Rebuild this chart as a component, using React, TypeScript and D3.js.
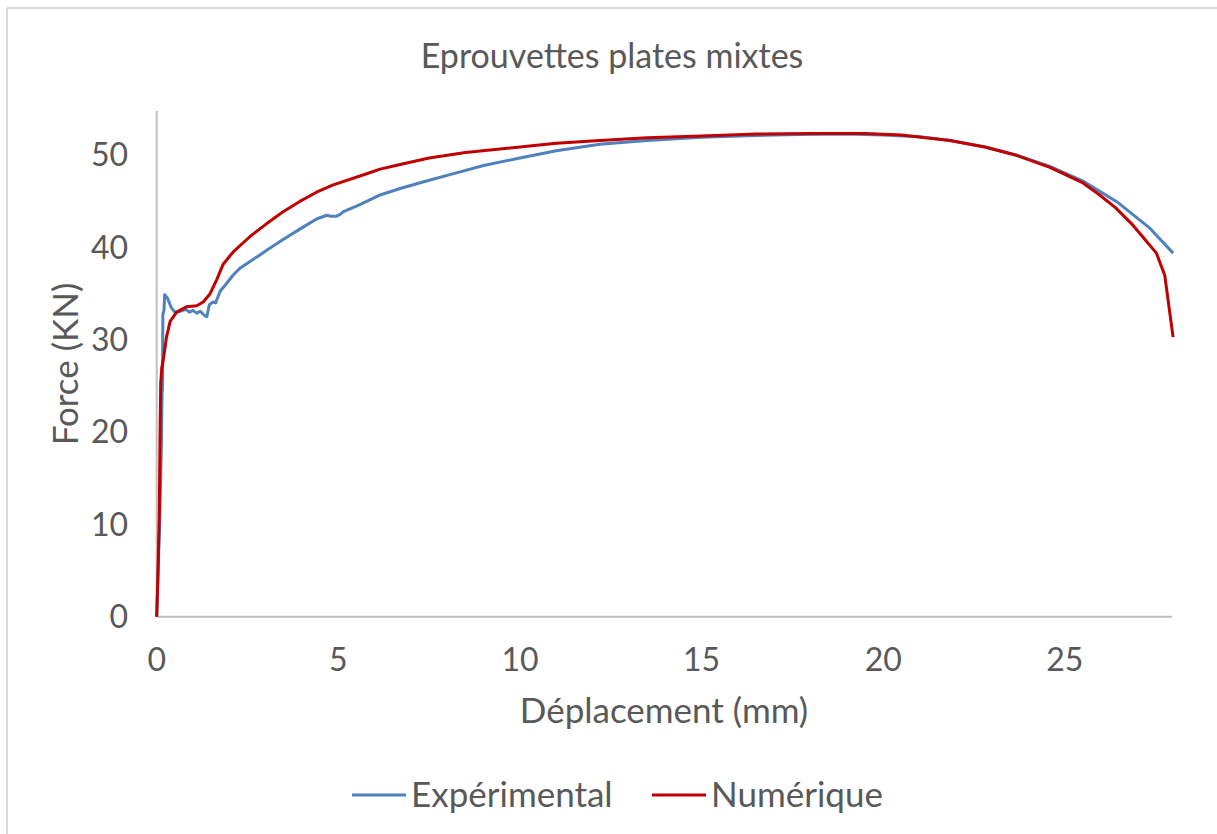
import React from 'react'
import * as d3 from 'd3'

// Expérimental
const expX = [0, 0.08, 0.13, 0.15, 0.16, 0.17, 0.2, 0.22, 0.3, 0.4, 0.5, 0.65, 0.8, 0.9, 1.0, 1.1, 1.2, 1.3, 1.38, 1.45, 1.55, 1.62, 1.75, 1.9, 2.1, 2.3, 2.57, 2.8, 3.03, 3.49, 3.94, 4.4, 4.68, 4.8, 4.95, 5.05, 5.14, 5.5, 5.78, 6.15, 6.7, 7.5, 8.07, 9, 10, 11, 12.2, 13.5, 15, 16.5, 17.7, 19, 20, 21, 21.84, 22.8, 23.67, 24.59, 25.5, 26.42, 27.34, 27.98]
const expF = [0, 10, 18.8, 25, 24.5, 32.8, 33.2, 34.9, 34.5, 33.5, 33.0, 33.1, 33.3, 33.0, 33.2, 32.9, 33.1, 32.7, 32.5, 33.8, 34.1, 34.0, 35.3, 36.0, 37.0, 37.8, 38.5, 39.1, 39.7, 40.9, 42.0, 43.1, 43.5, 43.4, 43.4, 43.6, 43.9, 44.5, 45.0, 45.7, 46.4, 47.3, 47.9, 48.9, 49.7, 50.5, 51.2, 51.6, 51.95, 52.15, 52.25, 52.3, 52.2, 52.0, 51.6, 50.9, 50.0, 48.8, 47.2, 45.0, 42.1, 39.4]

// Numérique
const numX = [0, 0.03, 0.07, 0.09, 0.11, 0.14, 0.18, 0.27, 0.37, 0.55, 0.83, 1.1, 1.28, 1.47, 1.65, 1.83, 2.1, 2.57, 3.03, 3.49, 3.94, 4.4, 4.86, 5.78, 6.15, 6.7, 7.5, 8.5, 10, 11, 12.2, 13.5, 15, 16.5, 18, 19.5, 20.5, 21.84, 22.8, 23.67, 24.59, 25.5, 25.96, 26.4, 26.88, 27.2, 27.52, 27.75, 27.98]
const numF = [0, 4, 10.8, 18.8, 25.3, 27, 27.8, 30.3, 32.0, 33.0, 33.6, 33.7, 34.1, 35.0, 36.5, 38.2, 39.5, 41.2, 42.6, 43.9, 45.0, 46.0, 46.8, 48.0, 48.5, 49.0, 49.7, 50.3, 50.9, 51.3, 51.6, 51.9, 52.1, 52.3, 52.35, 52.35, 52.2, 51.6, 50.9, 50.0, 48.7, 47.0, 45.7, 44.3, 42.4, 40.9, 39.4, 37.0, 30.3]

const xTicks = [0, 5, 10, 15, 20, 25]
const yTicks = [0, 10, 20, 30, 40, 50]

const series = [
  { name: 'Expérimental', xs: expX, ys: expF, color: '#4f81bd' },
  { name: 'Numérique', xs: numX, ys: numF, color: '#c00000' },
]

const W = 1217
const H = 834
const font = 'Lato, "Open Sans", sans-serif'
const txt = '#595959'

export default function App() {
  const x = d3.scaleLinear().domain([0, 27.95]).range([156.7, 1172])
  const y = d3.scaleLinear().domain([0, 54.8]).range([616.7, 111])

  const line = d3
    .line<[number, number]>()
    .x(d => x(d[0]))
    .y(d => y(d[1]))

  // legend: swatch start x for each entry
  const legendX = [352, 652]

  return (
    <svg
      width={W}
      height={H}
      style={{ position: 'absolute', left: 0, top: 0, background: '#fff' }}
      fontFamily={font}
    >
      {/* chart frame, only top and left edges visible */}
      <line x1={7} x2={W} y1={8} y2={8} stroke="#d9d9d9" strokeWidth={2} />
      <line x1={7} x2={7} y1={8} y2={H} stroke="#d9d9d9" strokeWidth={2} />

      <text x={612} y={56} dy="0.35em" textAnchor="middle" fontSize={34} fill={txt}>
        Eprouvettes plates mixtes
      </text>

      {/* axes */}
      <line x1={x(0)} x2={x(0)} y1={y(54.8)} y2={y(0)} stroke="#bfbfbf" strokeWidth={2} />
      <line x1={x(0)} x2={x(27.95)} y1={y(0)} y2={y(0)} stroke="#bfbfbf" strokeWidth={2} />

      {yTicks.map(t => (
        <text key={t} x={128} y={y(t)} dy="0.35em" textAnchor="end" fontSize={32} fill={txt}>
          {t}
        </text>
      ))}
      {xTicks.map(t => (
        <text key={t} x={x(t)} y={660} dy="0.35em" textAnchor="middle" fontSize={32} fill={txt}>
          {t}
        </text>
      ))}

      <text x={664} y={711} dy="0.35em" textAnchor="middle" fontSize={35} fill={txt}>
        Déplacement (mm)
      </text>
      <text
        transform={`translate(66,364) rotate(-90)`}
        dy="0.35em"
        textAnchor="middle"
        fontSize={35}
        fill={txt}
      >
        Force (KN)
      </text>

      {series.map(s => (
        <path
          key={s.name}
          d={line(s.xs.map((v, i) => [v, s.ys[i]] as [number, number])) || ''}
          fill="none"
          stroke={s.color}
          strokeWidth={3}
          strokeLinejoin="round"
        />
      ))}

      {/* legend */}
      {series.map((s, i) => (
        <g key={s.name} transform={`translate(${legendX[i]},795)`}>
          <line x1={0} x2={54} y1={0} y2={0} stroke={s.color} strokeWidth={3} />
          <text x={59} y={0} dy="0.35em" fontSize={35} fill={txt}>
            {s.name}
          </text>
        </g>
      ))}
    </svg>
  )
}
